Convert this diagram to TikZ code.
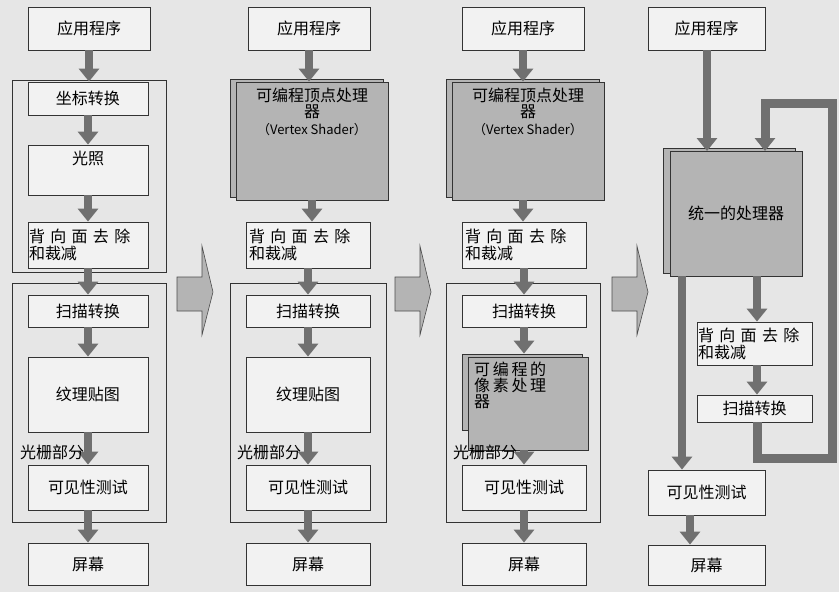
\documentclass[tikz,border=0pt]{standalone}
\usepackage{fontspec}
\setmainfont{Noto Sans CJK SC}
\usetikzlibrary{arrows.meta,fit}
\definecolor{bg}{HTML}{E6E6E6}
\definecolor{bx}{HTML}{F2F2F2}
\definecolor{gr}{HTML}{B4B4B4}
\definecolor{ar}{HTML}{707070}
\tikzset{
 box/.style={draw=black!80,line width=0.8pt,fill=bx,inner sep=0pt},
 grp/.style={draw=black!80,line width=0.8pt,inner sep=0pt},
 gbox/.style={box,fill=gr},
 txt/.style={font=\fontsize{16}{19}\selectfont,align=center,inner sep=0pt},
 garrow/.style={draw=ar,line width=8pt,-{Triangle[width=20pt,length=13pt]}},
 loopline/.style={draw=ar,line width=9pt,line join=miter},
 barrow/.style={draw=black!70,line width=0.6pt,fill=gr},
 lbl/.style={font=\fontsize{16}{19}\selectfont,inner sep=0pt,anchor=west}
}
\newcommand\bx[4][box]{\node[#1,fit={#3}] (#2) {}; \node[txt] (#2t) at (#2.center) {#4};}
\newcommand\backtext[1][118pt]{\parbox{#1}{\raggedright 背\,\,向\,\,面\,\,去\,\,除\\[-2pt]和裁减}}
\begin{document}
\begin{tikzpicture}[x=1pt,y=-1pt]
\fill[bg] (0,0) rectangle (839,592);
% ---------- column 1
\bx{a1}{(28,7)(150,50)}{应用程序}
\node[grp,fit={(12,80)(166,272)}] (g1) {};
\node[grp,fit={(12,283)(166,522)}] (g21) {};
\bx{b1}{(28,82)(148,115)}{坐标转换}
\node[box,fit={(28,145)(148,195)}] (c1) {};
\node[txt] (c1t) at ([yshift=-14pt]c1.north) {光照};
\bx{d1}{(28,222)(148,268)}{\backtext}
\bx{e1}{(28,295)(148,327)}{扫描转换}
\bx{f1}{(28,357)(148,432)}{纹理贴图}
\bx{h1}{(28,465)(148,510)}{可见性测试}
\bx{s1}{(28,543)(148,585)}{屏幕}
\foreach \p/\q in {a1/b1,b1/c1,c1/d1,d1/e1,e1/f1,f1/h1,h1/s1}
  \draw[garrow] (\p.south) -- (\p.south|-\q.north);
\node[lbl] (r1) at (20,452) {光栅部分};
% block arrows
\foreach \x/\n in {177/ba1,395/ba2,612/ba3}{
  \draw[barrow] (\x,277) -- (\x+25,277) -- (\x+25,246) -- (\x+36,292) -- (\x+25,335) -- (\x+25,311) -- (\x,311) -- cycle;
}
% ---------- column 2
\bx{a2}{(248,7)(370,50)}{应用程序}
\node[grp,fit={(230,283)(386,522)}] (g22) {};
\node[gbox,fit={(230,79)(383,197)}] (v2s) {};
\node[gbox,fit={(236,82)(388,200)}] (v2) {};
\node[txt,anchor=north] (v2t) at ([yshift=-6pt]v2.north) {可编程顶点处理\\[-3pt]器\\[-2pt]{\fontsize{13}{16}\selectfont （Vertex Shader）}};
\bx{d2}{(246,222)(370,268)}{\backtext}
\bx{e2}{(246,295)(370,327)}{扫描转换}
\bx{f2}{(246,357)(370,432)}{纹理贴图}
\bx{h2}{(246,465)(370,510)}{可见性测试}
\bx{s2}{(246,543)(370,585)}{屏幕}
\foreach \p/\q in {a2/v2,v2/d2,d2/e2,e2/f2,f2/h2,h2/s2}
  \draw[garrow] (\p.south) -- (\p.south|-\q.north);
\node[lbl] (r2) at (237,452) {光栅部分};
% ---------- column 3
\bx{a3}{(462,7)(584,50)}{应用程序}
\node[grp,fit={(446,283)(600,522)}] (g23) {};
\node[gbox,fit={(446,79)(599,197)}] (v3s) {};
\node[gbox,fit={(452,82)(604,200)}] (v3) {};
\node[txt,anchor=north] (v3t) at ([yshift=-6pt]v3.north) {可编程顶点处理\\[-3pt]器\\[-2pt]{\fontsize{13}{16}\selectfont （Vertex Shader）}};
\bx{d3}{(462,222)(586,268)}{\backtext}
\bx{e3}{(462,295)(586,327)}{扫描转换}
\node[gbox,fit={(462,354)(582,430)}] (f3s) {};
\node[gbox,fit={(468,357)(588,450)}] (f3) {};
\node[txt,align=left,anchor=north west] (f3t) at (474,362) {可\,编\,程\,的\\[-3pt]像\,素\,处\,理\\[-3pt]器};
\bx{h3}{(462,465)(586,510)}{可见性测试}
\bx{s3}{(462,543)(586,585)}{屏幕}
\draw[garrow] (a3.south) -- (a3.south|-v3.north);
\draw[garrow] (v3.south-|a3.south) -- (a3.south|-d3.north);
\draw[garrow] (d3.south) -- (d3.south|-e3.north);
\draw[garrow] (e3.south) -- (e3.south|-f3s.north);
\draw[garrow] (f3.south-|h3.south) -- (h3.north);
\draw[garrow] (h3.south) -- (s3.north);
\node[lbl] (r3) at (453,452) {光栅部分};
% ---------- column 4
\bx{a4}{(648,7)(765,50)}{应用程序}
\node[gbox,fit={(663,148)(795,273)}] (u4s) {};
\bx[gbox]{u4}{(670,151)(802,276)}{统一的处理器}
\bx{d4}{(697,322)(812,365)}{\backtext[113pt]}
\bx{e4}{(697,395)(812,422)}{扫描转换}
\bx{h4}{(648,470)(765,515)}{可见性测试}
\bx{s4}{(648,545)(765,585)}{屏幕}
\coordinate (l1) at (757,458);
\coordinate (l2) at (832,458);
\coordinate (l3) at (832,103);
\coordinate (l4) at (765,103);
\coordinate (ue) at (757,276);
\coordinate (uin) at (765,151);
\draw[loopline] (e4.south-|l1) -- (l1) -- (l2) -- (l3) -- (l4) -- (765,140);
\draw[garrow] (765,125) -- (uin);
\draw[garrow] (707,50) -- (707,151);
\draw[garrow] (ue) -- (d4.north-|ue);
\draw[garrow] (d4.south-|ue) -- (e4.north-|ue);
\draw[garrow] (682,276) -- (h4.north-|682,0);
\draw[garrow] (h4.south-|690,0) -- (s4.north-|690,0);
\end{tikzpicture}
\end{document}
